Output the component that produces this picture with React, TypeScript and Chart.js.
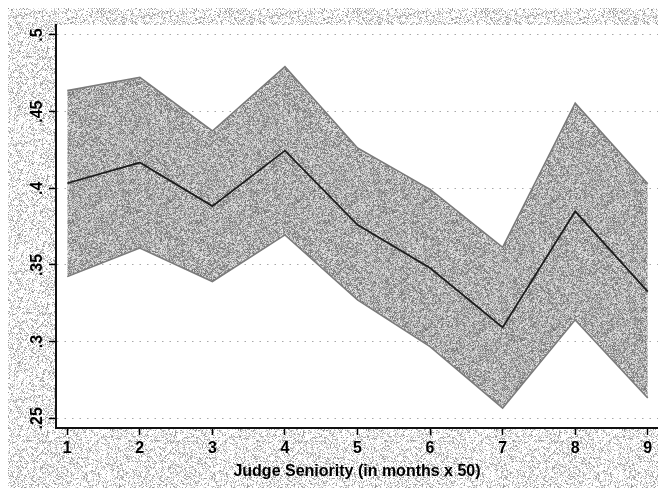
import React, { useEffect, useRef } from 'react';
import { Chart, registerables } from 'chart.js';

Chart.register(...registerables);

// ---- data ----
const xValues = [1, 2, 3, 4, 5, 6, 7, 8, 9];
const meanValues = [0.4033, 0.4168, 0.3884, 0.4246, 0.3762, 0.348, 0.3093, 0.385, 0.3326];
const upperValues = [0.4637, 0.4724, 0.4374, 0.4793, 0.4263, 0.3993, 0.3615, 0.4555, 0.403];
const lowerValues = [0.3424, 0.361, 0.3392, 0.3696, 0.3272, 0.2968, 0.2567, 0.3142, 0.2632];
const yTickValues = [0.25, 0.3, 0.35, 0.4, 0.45, 0.5];
const yTickLabels = ['.25', '.3', '.35', '.4', '.45', '.5'];
const xTickValues = [1, 2, 3, 4, 5, 6, 7, 8, 9];
const xTickLabels = ['1', '2', '3', '4', '5', '6', '7', '8', '9'];
const xTitle = 'Judge Seniority (in months x 50)';

// deterministic dither texture (style only)
function makeDither(size: number, seed: number, kind: 'bg' | 'band'): CanvasPattern | string {
  const c = document.createElement('canvas');
  c.width = size;
  c.height = size;
  const g = c.getContext('2d');
  if (!g) return kind === 'bg' ? '#e2e2e2' : '#acacac';
  const img = g.createImageData(size, size);
  let s = seed >>> 0;
  const next = () => {
    s = (Math.imul(s, 1664525) + 1013904223) >>> 0;
    return s / 4294967296;
  };
  for (let i = 0; i < size * size; i++) {
    const r1 = next();
    const r2 = next();
    let v: number;
    if (kind === 'bg') {
      v = r1 < 0.4 ? 140 + r2 * 100 : 255;
    } else {
      v = 110 + r1 * 125;
    }
    v = Math.max(0, Math.min(255, Math.round(v)));
    img.data[i * 4] = v;
    img.data[i * 4 + 1] = v;
    img.data[i * 4 + 2] = v;
    img.data[i * 4 + 3] = 255;
  }
  g.putImageData(img, 0, 0);
  const p = g.createPattern(c, 'repeat');
  return p || (kind === 'bg' ? '#e2e2e2' : '#acacac');
}

export default function App() {
  const ref = useRef<HTMLCanvasElement>(null);

  useEffect(() => {
    const canvas = ref.current;
    if (!canvas) return;
    const bgPattern = makeDither(128, 12345, 'bg');
    const bandPattern = makeDither(128, 98765, 'band');

    const bgPlugin = {
      id: 'stataBg',
      beforeDraw(chart: any) {
        const { ctx, chartArea, width, height } = chart;
        ctx.save();
        ctx.fillStyle = bgPattern;
        ctx.fillRect(0, 0, width, height);
        ctx.fillStyle = '#ffffff';
        ctx.fillRect(chartArea.left, chartArea.top, chartArea.right - chartArea.left, chartArea.bottom - chartArea.top);
        ctx.restore();
      },
    };

    const font = { family: "'Liberation Sans', Arial, sans-serif", size: 16, weight: 'bold' as const };

    const chart = new Chart(canvas, {
      type: 'line',
      data: {
        datasets: [
          {
            label: 'mean',
            data: xValues.map((x, i) => ({ x, y: meanValues[i] })),
            borderColor: '#1c1c1c',
            borderWidth: 1.8,
            pointRadius: 0,
            fill: false,
            tension: 0,
          },
          {
            label: 'upper',
            data: xValues.map((x, i) => ({ x, y: upperValues[i] })),
            borderColor: '#7a7a7a',
            borderWidth: 1.6,
            pointRadius: 0,
            fill: 2,
            backgroundColor: bandPattern as any,
            tension: 0,
          },
          {
            label: 'lower',
            data: xValues.map((x, i) => ({ x, y: lowerValues[i] })),
            borderColor: '#7a7a7a',
            borderWidth: 1.6,
            pointRadius: 0,
            fill: false,
            tension: 0,
          },
        ],
      },
      options: {
        responsive: false,
        animation: false,
        layout: { padding: { left: 0, top: 17, right: 8, bottom: 0 } },
        plugins: {
          legend: { display: false },
          tooltip: { enabled: false },
          filler: { drawTime: 'beforeDatasetsDraw' },
        } as any,
        scales: {
          x: {
            type: 'linear',
            min: 0.845,
            max: 9.141,
            afterBuildTicks: (s: any) => {
              s.ticks = xTickValues.map((v) => ({ value: v }));
            },
            afterFit: (s: any) => {
              s.height = 60;
            },
            ticks: {
              font,
              color: '#000',
              padding: 4,
              maxRotation: 0,
              callback: (v: any) => {
                const i = xTickValues.findIndex((t) => Math.abs(t - Number(v)) < 1e-9);
                return i >= 0 ? xTickLabels[i] : '';
              },
            },
            grid: {
              display: true,
              drawOnChartArea: false,
              drawTicks: true,
              tickLength: 7,
              tickColor: '#000',
              tickWidth: 1.5,
            },
            border: { display: true, color: '#111', width: 2 },
            title: {
              display: true,
              text: xTitle,
              font,
              color: '#000',
              padding: { top: 0, bottom: 7 },
            },
          },
          y: {
            type: 'linear',
            min: 0.24367,
            max: 0.50652,
            afterBuildTicks: (s: any) => {
              s.ticks = yTickValues.map((v) => ({ value: v }));
            },
            afterFit: (s: any) => {
              s.width = 48;
            },
            ticks: {
              font,
              color: '#000',
              padding: 0,
              minRotation: 90,
              maxRotation: 90,
              crossAlign: 'center',
              callback: (v: any) => {
                const i = yTickValues.findIndex((t) => Math.abs(t - Number(v)) < 1e-9);
                return i >= 0 ? yTickLabels[i] : '';
              },
            },
            grid: {
              display: true,
              drawOnChartArea: true,
              color: '#a8a8a8',
              lineWidth: 1,
              drawTicks: true,
              tickLength: 7,
              tickColor: '#000',
              tickWidth: 1.5,
            },
            border: { display: true, color: '#111', width: 2, dash: [1.5, 6] },
          },
        },
      } as any,
      plugins: [bgPlugin],
    });

    return () => chart.destroy();
  }, []);

  return <canvas ref={ref} width={658} height={480} style={{ display: 'block' }} />;
}
